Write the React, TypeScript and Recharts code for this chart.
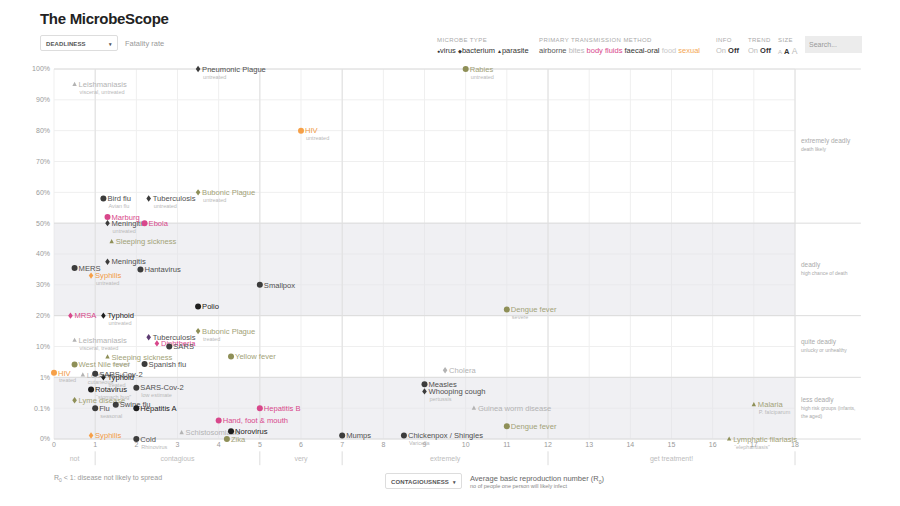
import React from "react";
import {
  ScatterChart,
  Scatter,
  XAxis,
  YAxis,
  CartesianGrid,
  ReferenceArea,
  ReferenceLine,
} from "recharts";

// one entry per microbe, same order in every array
const names = [
  "Pneumonic Plague", "Leishmaniasis", "Rabies", "HIV", "Bird flu", "Tuberculosis",
  "Bubonic Plague", "Marburg", "Meningitis", "Ebola", "Sleeping sickness", "Meningitis",
  "MERS", "Hantavirus", "Syphilis", "Smallpox", "Polio", "MRSA", "Typhoid", "Dengue fever",
  "Bubonic Plague", "Tuberculosis", "Leishmaniasis", "Diphtheria", "SARS", "Yellow fever",
  "Sleeping sickness", "West Nile fever", "Spanish flu", "Cholera", "HIV", "Leishmaniasis",
  "SARS-Cov-2", "Typhoid", "Measles", "Whooping cough", "Rotavirus", "SARS-Cov-2",
  "Lyme disease", "Swine flu", "Flu", "Hepatitis A", "Hepatitis B", "Guinea worm disease",
  "Malaria", "Hand, foot & mouth", "Dengue fever", "Norovirus", "Schistosomiasis", "Syphilis",
  "Mumps", "Chickenpox / Shingles", "Zika", "Cold", "Lymphatic filariasis",
];

const notes = [
  "untreated", "visceral, untreated", "untreated", "untreated", "Avian flu", "untreated",
  "untreated", "", "untreated", "", "", "", "", "", "untreated", "", "", "", "untreated", "severe",
  "treated", "", "visceral, treated", "", "", "", "treated", "", "", "", "treated", "cutaneous",
  "", "treated", "", "pertussis", "\u201cstomach bug\u201d", "low estimate",
  "", "", "seasonal", "", "", "", "P. falciparum", "", "", "", "", "",
  "", "Varicella", "", "Rhinovirus", "\u201celephantiasis\u201d",
];

// average basic reproduction number R0
const r0 = [
  3.5, 0.5, 10, 6, 1.2, 2.3, 3.5, 1.3, 1.3, 2.2, 1.4, 1.3, 0.5, 2.1, 0.9, 5, 3.5, 0.4, 1.2, 11,
  3.5, 2.3, 0.5, 2.5, 2.8, 4.3, 1.3, 0.5, 2.2, 9.5, 0, 0.7, 1.0, 1.2, 9, 9, 0.9, 2.0,
  0.5, 1.5, 1.0, 2.0, 5.0, 10.2, 17, 4.0, 11, 4.3, 3.1, 0.9, 7, 8.5, 4.2, 2.0, 16.4,
];

// fatality rate, percent
const fatality = [
  100, 95, 100, 80, 58, 58, 60, 52, 50, 50, 44, 37.5, 35.5, 35, 33, 30, 23, 20, 20, 22,
  15, 13, 12, 11, 10, 4.7, 4.6, 2.6, 2.7, 1.7, 1.4, 1.2, 1.3, 1.0, 0.6, 0.35, 0.4, 0.46,
  0.18, 0.13, 0.1, 0.1, 0.1, 0.1, 0.13, 0.04, 0.026, 0.018, 0.016, 0.013, 0.013, 0.013, 0, 0, 0,
];

const kinds = [
  "bacterium", "parasite", "virus", "virus", "virus", "bacterium", "bacterium", "virus",
  "bacterium", "virus", "parasite", "bacterium", "virus", "virus", "bacterium", "virus", "virus",
  "bacterium", "bacterium", "virus", "bacterium", "bacterium", "parasite", "bacterium", "virus",
  "virus", "parasite", "virus", "virus", "bacterium", "virus", "parasite", "virus", "bacterium",
  "virus", "bacterium", "virus", "virus", "bacterium", "virus", "virus", "virus", "virus",
  "parasite", "parasite", "virus", "virus", "virus", "parasite", "bacterium", "virus", "virus",
  "virus", "virus", "parasite",
];

const routes = [
  "airborne", "other", "bites", "sexual", "airborne", "airborne", "bites", "fluids", "airborne",
  "fluids", "bites", "airborne", "airborne", "airborne", "sexual", "airborne", "faecal", "fluids",
  "faecal", "bites", "bites", "mixed", "other", "fluids", "airborne", "bites", "bites", "bites",
  "airborne", "other", "sexual", "other", "airborne", "faecal", "airborne", "airborne", "faecal",
  "airborne", "bites", "airborne", "airborne", "faecal", "fluids", "other", "bites", "fluids",
  "bites", "faecal", "other", "sexual", "airborne", "airborne", "bites", "airborne", "bites",
];

const xTicks = [0, 1, 2, 3, 4, 5, 6, 7, 8, 9, 10, 11, 12, 13, 14, 15, 16, 17, 18];
const yTicks = [-2, -1, 0, 1, 2, 3, 4, 5, 6, 7, 8, 9, 10];
const yLabels = ["0%", "0.1%", "1%", "10%", "20%", "30%", "40%", "50%", "60%", "70%", "80%", "90%", "100%"];
const bandNames = ["not", "contagious", "very", "extremely", "get treatment!"];
const bandEdges = [0, 1, 5, 7, 12, 18];

const colors: Record<string, { mark: string; label: string }> = {
  airborne: { mark: "#3c3c3c", label: "#4f4f4f" },
  faecal: { mark: "#1e1e1e", label: "#222" },
  bites: { mark: "#8e8f57", label: "#a2a277" },
  fluids: { mark: "#d8478b", label: "#d8478b" },
  sexual: { mark: "#f6a048", label: "#f09a45" },
  other: { mark: "#b3b3b3", label: "#b3b3b3" },
  mixed: { mark: "#5d3c72", label: "#4f4f4f" },
};

// 10%..100% linear, below 10% one decade per step, 0% sits at the bottom
const toScale = (p: number) => (p >= 10 ? p / 10 : p <= 0.01 ? -2 : Math.log10(p));

const rows = names.map((name, i) => ({
  name,
  note: notes[i],
  kind: kinds[i],
  route: routes[i],
  x: r0[i],
  y: toScale(fatality[i]),
}));

const Marker = (props: any) => {
  const { cx, cy, payload } = props;
  const c = colors[payload.route];
  let mark;
  if (payload.kind === "virus") {
    mark = <circle cx={cx} cy={cy} r={3} fill={c.mark} />;
  } else if (payload.kind === "bacterium") {
    mark = <path d={`M${cx},${cy - 3.2}L${cx + 2.3},${cy}L${cx},${cy + 3.2}L${cx - 2.3},${cy}Z`} fill={c.mark} />;
  } else {
    mark = <path d={`M${cx},${cy - 2.6}L${cx + 2.2},${cy + 1.5}L${cx - 2.2},${cy + 1.5}Z`} fill={c.mark} />;
  }
  return (
    <g>
      {mark}
      <text x={cx + 4} y={cy + 2.7} fontSize={7.6} fill={c.label}>{payload.name}</text>
      {payload.note ? (
        <text x={cx + 5} y={cy + 9.5} fontSize={5.5} fill="#b9b9b9">{payload.note}</text>
      ) : null}
    </g>
  );
};

const small = { fontSize: 6, color: "#aaa", letterSpacing: 0.4 };

const Box = ({ left, top, width, text }: { left: number; top: number; width: number; text: string }) => (
  <div
    style={{
      position: "absolute", left, top, width, height: 16, border: "1px solid #ddd", borderRadius: 2,
      fontSize: 6, fontWeight: 700, color: "#555", letterSpacing: 0.1, lineHeight: "16px",
      paddingLeft: 5, boxSizing: "border-box", whiteSpace: "nowrap",
    }}
  >
    {text}
    <span style={{ position: "absolute", right: 5, fontSize: 5 }}>▾</span>
  </div>
);

const sideNotes = [
  { top: 137, head: "extremely deadly", sub: ["death likely"] },
  { top: 261, head: "deadly", sub: ["high chance of death"] },
  { top: 338, head: "quite deadly", sub: ["unlucky or unhealthy"] },
  { top: 396, head: "less deadly", sub: ["high risk groups (infants,", "the aged)"] },
];

export default function App() {
  return (
    <div
      style={{
        position: "absolute", left: 0, top: 0, width: 900, height: 506, background: "#fff",
        fontFamily: "'Liberation Sans', Arial, sans-serif", overflow: "hidden",
      }}
    >
      <div style={{ position: "absolute", left: 40, top: 10, fontSize: 15, fontWeight: 700, color: "#222", letterSpacing: -0.3 }}>
        The MicrobeScope
      </div>
      <Box left={40} top={35} width={78} text="DEADLINESS" />
      <div style={{ position: "absolute", left: 125, top: 39, fontSize: 7.5, color: "#999" }}>Fatality rate</div>

      <div style={{ position: "absolute", left: 437, top: 37, ...small }}>MICROBE TYPE</div>
      <div style={{ position: "absolute", left: 437, top: 46, fontSize: 7.5, color: "#333", whiteSpace: "nowrap" }}>
        <span style={{ fontSize: 5 }}>●</span>virus <span style={{ fontSize: 5 }}>◆</span>bacterium{" "}
        <span style={{ fontSize: 5 }}>▲</span>parasite
      </div>
      <div style={{ position: "absolute", left: 539, top: 37, ...small }}>PRIMARY TRANSMISSION METHOD</div>
      <div style={{ position: "absolute", left: 539, top: 46, fontSize: 7.5, whiteSpace: "nowrap" }}>
        <span style={{ color: "#555" }}>airborne</span> <span style={{ color: "#bbb" }}>bites</span>{" "}
        <span style={{ color: "#d8478b" }}>body fluids</span> <span style={{ color: "#333" }}>faecal-oral</span>{" "}
        <span style={{ color: "#c8c8c8" }}>food</span> <span style={{ color: "#f3a654" }}>sexual</span>
      </div>
      <div style={{ position: "absolute", left: 716, top: 37, ...small }}>INFO</div>
      <div style={{ position: "absolute", left: 716, top: 46, fontSize: 7.5, whiteSpace: "nowrap" }}>
        <span style={{ color: "#bbb" }}>On</span> <b style={{ color: "#333" }}>Off</b>
      </div>
      <div style={{ position: "absolute", left: 748, top: 37, ...small }}>TREND</div>
      <div style={{ position: "absolute", left: 748, top: 46, fontSize: 7.5, whiteSpace: "nowrap" }}>
        <span style={{ color: "#bbb" }}>On</span> <b style={{ color: "#333" }}>Off</b>
      </div>
      <div style={{ position: "absolute", left: 778, top: 37, ...small }}>SIZE</div>
      <div style={{ position: "absolute", left: 778, top: 46, fontSize: 7.5, whiteSpace: "nowrap" }}>
        <span style={{ color: "#bbb", fontSize: 6 }}>A</span> <b style={{ color: "#333" }}>A</b>{" "}
        <span style={{ color: "#bbb", fontSize: 8.5 }}>A</span>
      </div>
      <div
        style={{
          position: "absolute", left: 805, top: 36, width: 57, height: 17, background: "#ececec",
          fontSize: 7, color: "#999", lineHeight: "17px", paddingLeft: 4, boxSizing: "border-box",
        }}
      >
        Search...
      </div>

      <ScatterChart width={900} height={506} margin={{ top: 69, right: 105, bottom: 55, left: 24 }}>
        <ReferenceArea x1={0} x2={18} y1={2} y2={5} fill="#e2e2e8" fillOpacity={0.5} stroke="none" />
        <ReferenceArea x1={0} x2={18} y1={-2} y2={0} fill="#e2e2e8" fillOpacity={0.5} stroke="none" />
        <CartesianGrid stroke="#efefef" />
        <XAxis
          type="number"
          dataKey="x"
          domain={[0, 18]}
          ticks={xTicks}
          axisLine={false}
          tickLine={false}
          tickSize={2}
          tickMargin={1}
          height={12}
          tick={{ fontSize: 7, fill: "#9a9a9a" }}
        />
        <YAxis
          type="number"
          dataKey="y"
          domain={[-2, 10]}
          ticks={yTicks}
          tickFormatter={(v: number) => yLabels[yTicks.indexOf(v)]}
          axisLine={false}
          tickLine={false}
          tickSize={2}
          tickMargin={2}
          width={30}
          tick={{ fontSize: 7, fill: "#9a9a9a" }}
        />
        {[10, 5, 2, 0, -2].map((y) => (
          <ReferenceLine
            key={`h${y}`}
            segment={[{ x: 0, y }, { x: 19.6, y }]}
            stroke="#dcdcdc"
            ifOverflow="visible"
          />
        ))}
        {bandEdges.slice(1).map((x) => (
          <ReferenceLine key={`v${x}`} segment={[{ x, y: -2 }, { x, y: 10 }]} stroke="#e0e0e0" ifOverflow="visible" />
        ))}
        {bandEdges.slice(1).map((x) => (
          <ReferenceLine
            key={`s${x}`}
            segment={[{ x, y: -2.4 }, { x, y: -2.85 }]}
            stroke="#dcdcdc"
            ifOverflow="visible"
          />
        ))}
        {/* contagiousness groups under the R0 axis */}
        {bandNames.map((name, i) => (
          <ReferenceArea
            key={name}
            x1={bandEdges[i]}
            x2={bandEdges[i + 1]}
            y1={-2.85}
            y2={-2.4}
            fill="none"
            stroke="none"
            ifOverflow="visible"
            label={{ value: name, position: "center", fontSize: 7, fill: "#bdbdbd" }}
          />
        ))}
        <Scatter data={rows.filter((r) => r.kind === "parasite")} shape={Marker} isAnimationActive={false} />
        <Scatter data={rows.filter((r) => r.kind === "bacterium")} shape={Marker} isAnimationActive={false} />
        <Scatter data={rows.filter((r) => r.kind === "virus")} shape={Marker} isAnimationActive={false} />
      </ScatterChart>

      {sideNotes.map((n) => (
        <div key={n.head} style={{ position: "absolute", left: 801, top: n.top, color: "#aaa", whiteSpace: "nowrap" }}>
          <div style={{ fontSize: 6.5 }}>{n.head}</div>
          {n.sub.map((s) => (
            <div key={s} style={{ fontSize: 5, marginTop: 2 }}>{s}</div>
          ))}
        </div>
      ))}

      <div style={{ position: "absolute", left: 54, top: 474, fontSize: 7, color: "#9a9a9a" }}>
        R<sub style={{ fontSize: 5 }}>0</sub> &lt; 1: disease not likely to spread
      </div>
      <Box left={385} top={473} width={77} text="CONTAGIOUSNESS" />
      <div style={{ position: "absolute", left: 470, top: 474, fontSize: 7.5, color: "#666", whiteSpace: "nowrap" }}>
        Average basic reproduction number (R<sub style={{ fontSize: 5 }}>0</sub>)
      </div>
      <div style={{ position: "absolute", left: 470, top: 483, fontSize: 5.5, color: "#888", whiteSpace: "nowrap" }}>
        no of people one person will likely infect
      </div>
    </div>
  );
}
